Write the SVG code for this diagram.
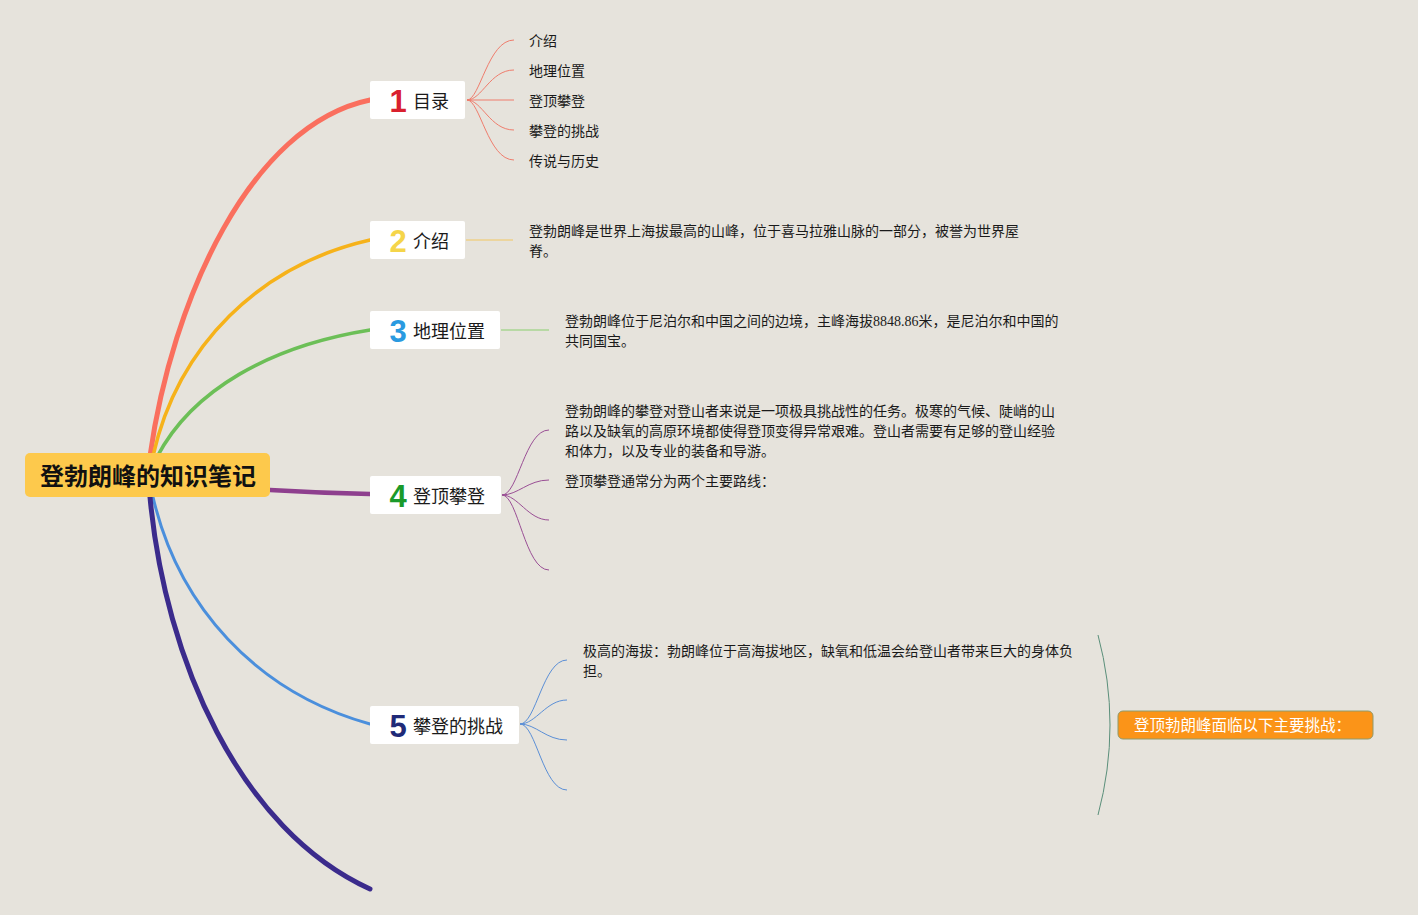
<svg xmlns="http://www.w3.org/2000/svg" width="1418" height="915" viewBox="0 0 1418 915">
<style>
.t{font-family:"Liberation Serif","Noto Sans CJK SC",sans-serif;font-size:14px;fill:#1a1a1a}
.lbl{font-family:"Noto Sans CJK SC",sans-serif;font-size:18px;fill:#1a1a1a}
.num{font-family:"Liberation Sans","Noto Sans",sans-serif;font-size:31px;font-weight:bold;text-anchor:middle}
.topic{fill:#ffffff}
.br{fill:none;stroke-linecap:round}
.sub{fill:none;stroke-width:1}
</style>
<rect width="1418" height="915" fill="#e6e3dc"/>
<g id="connectors">
<path class="br" d="M150,456 C172,300 250,125 370,100" stroke="#fa6f5e" stroke-width="5"/>
<path class="br" d="M153,456 C178,345 260,265 370,240" stroke="#f6b21a" stroke-width="3.5"/>
<path class="br" d="M157,457 C192,390 270,346 370,330" stroke="#6cbf57" stroke-width="3.5"/>
<path class="br" d="M270,490 Q320,493 370,494" stroke="#8e3f8e" stroke-width="4.5"/>
<path class="br" d="M153,497 C178,605 255,692 370,724" stroke="#4b8fdc" stroke-width="3"/>
<path class="br" d="M150,497 C165,660 240,830 370,889" stroke="#3b2b8c" stroke-width="5"/>
<g stroke="#ef7d6d" class="sub">
<path d="M467,100 C480,100 488,40 514,40"/>
<path d="M467,100 C482,100 490,70 514,70"/>
<path d="M467,100 L514,100"/>
<path d="M467,100 C482,100 490,130 514,130"/>
<path d="M467,100 C480,100 488,160 514,160"/>
</g>
<path d="M466,240 L513,240" stroke="#eed08a" stroke-width="1.5" fill="none"/>
<path d="M501,330 L549,330" stroke="#a9d693" stroke-width="1.5" fill="none"/>
<g stroke="#9a4f95" class="sub">
<path d="M502,495 C518,495 525,430 549,430"/>
<path d="M502,495 C518,495 528,480 549,480"/>
<path d="M502,495 C518,495 528,520 549,520"/>
<path d="M502,495 C518,495 525,570 549,570"/>
</g>
<g stroke="#5b8fd6" class="sub">
<path d="M520,724 C536,724 543,660 567,660"/>
<path d="M520,724 C536,724 546,700 567,700"/>
<path d="M520,724 C536,724 546,740 567,740"/>
<path d="M520,724 C536,724 543,790 567,790"/>
</g>
<path d="M1098,635 Q1122,725 1098,815" stroke="#5a8f7a" stroke-width="1" fill="none"/>
</g>
<g id="root">
<rect x="25" y="453" width="245" height="44" rx="5" fill="#fdc94c"/>
<text x="148" y="485" text-anchor="middle" style="font-family:'Noto Sans CJK SC',sans-serif;font-size:24px;font-weight:bold;fill:#111">登勃朗峰的知识笔记</text>
</g>
<g id="node1">
<rect class="topic" x="370" y="81" width="95" height="38" rx="2"/>
<text class="num" x="398" y="112" fill="#d9202e">1</text>
<text class="lbl" x="413" y="108">目录</text>
</g>
<g id="node1-items">
<text class="t" x="529" y="46">介绍</text>
<text class="t" x="529" y="76">地理位置</text>
<text class="t" x="529" y="106">登顶攀登</text>
<text class="t" x="529" y="136">攀登的挑战</text>
<text class="t" x="529" y="166">传说与历史</text>
</g>
<g id="node2">
<rect class="topic" x="370" y="221" width="95" height="38" rx="2"/>
<text class="num" x="398" y="252" fill="#f5d54a">2</text>
<text class="lbl" x="413" y="248">介绍</text>
</g>
<g id="node2-text">
<text class="t" x="529" y="236">登勃朗峰是世界上海拔最高的山峰，位于喜马拉雅山脉的一部分，被誉为世界屋</text>
<text class="t" x="529" y="256">脊。</text>
</g>
<g id="node3">
<rect class="topic" x="370" y="311" width="130" height="38" rx="2"/>
<text class="num" x="398" y="342" fill="#2a9ae0">3</text>
<text class="lbl" x="413" y="338">地理位置</text>
</g>
<g id="node3-text">
<text class="t" x="565" y="326">登勃朗峰位于尼泊尔和中国之间的边境，主峰海拔8848.86米，是尼泊尔和中国的</text>
<text class="t" x="565" y="346">共同国宝。</text>
</g>
<g id="node4">
<rect class="topic" x="370" y="476" width="131" height="38" rx="2"/>
<text class="num" x="398" y="507" fill="#1a9a2a">4</text>
<text class="lbl" x="413" y="503">登顶攀登</text>
</g>
<g id="node4-text">
<text class="t" x="565" y="416">登勃朗峰的攀登对登山者来说是一项极具挑战性的任务。极寒的气候、陡峭的山</text>
<text class="t" x="565" y="436">路以及缺氧的高原环境都使得登顶变得异常艰难。登山者需要有足够的登山经验</text>
<text class="t" x="565" y="456">和体力，以及专业的装备和导游。</text>
<text class="t" x="565" y="486">登顶攀登通常分为两个主要路线：</text>
</g>
<g id="node5">
<rect class="topic" x="370" y="706" width="149" height="38" rx="2"/>
<text class="num" x="398" y="737" fill="#1f2a78">5</text>
<text class="lbl" x="413" y="733">攀登的挑战</text>
</g>
<g id="node5-text">
<text class="t" x="583" y="656">极高的海拔：勃朗峰位于高海拔地区，缺氧和低温会给登山者带来巨大的身体负</text>
<text class="t" x="583" y="676">担。</text>
</g>
<g id="challenge">
<rect x="1118" y="711" width="255" height="28" rx="5" fill="#fb9418" stroke="#8f9a6a" stroke-width="1"/>
<text x="1134" y="731" style="font-family:'Noto Sans CJK SC',sans-serif;font-size:15.5px;fill:#ffffff">登顶勃朗峰面临以下主要挑战：</text>
</g>
</svg>
